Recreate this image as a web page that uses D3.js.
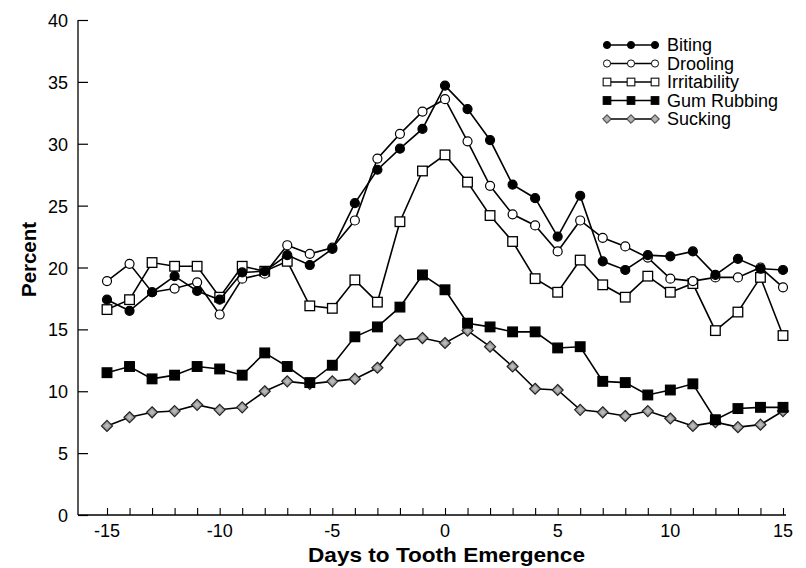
<!DOCTYPE html>
<html>
<head>
<meta charset="utf-8">
<script src="https://cdn.jsdelivr.net/npm/d3@7"></script>
<style>
  body { margin: 0; background: #fff; }
  text { font-family: "Liberation Sans", Arial, sans-serif; }
</style>
</head>
<body>
<svg></svg>
<script>
// data
var days = d3.range(-15, 16);
var biting = [17.4, 16.5, 18.0, 19.3, 18.1, 17.4, 19.6, 19.7, 21.0, 20.2, 21.5, 25.2, 27.9, 29.6, 31.2, 34.7,
              32.8, 30.3, 26.7, 25.6, 22.5, 25.8, 20.5, 19.8, 21.0, 20.9, 21.3, 19.4, 20.7, 19.9, 19.8];
var drooling = [18.9, 20.3, 18.0, 18.3, 18.8, 16.2, 19.1, 19.5, 21.8, 21.1, 21.6, 23.8, 28.8, 30.8, 32.6, 33.6,
                30.2, 26.6, 24.3, 23.4, 21.3, 23.8, 22.4, 21.7, 20.8, 19.1, 18.9, 19.2, 19.2, 20.0, 18.4];
var irritability = [16.6, 17.4, 20.4, 20.1, 20.1, 17.6, 20.1, 19.7, 20.5, 16.9, 16.7, 19.0, 17.2, 23.7, 27.8, 29.1,
                    26.9, 24.2, 22.1, 19.1, 18.0, 20.6, 18.6, 17.6, 19.3, 18.0, 18.7, 14.9, 16.4, 19.2, 14.5];
var gumRubbing = [11.5, 12.0, 11.0, 11.3, 12.0, 11.8, 11.3, 13.1, 12.0, 10.7, 12.1, 14.4, 15.2, 16.8, 19.4, 18.2,
                  15.5, 15.2, 14.8, 14.8, 13.5, 13.6, 10.8, 10.7, 9.7, 10.1, 10.6, 7.7, 8.6, 8.7, 8.7];
var sucking = [7.2, 7.9, 8.3, 8.4, 8.9, 8.5, 8.7, 10.0, 10.8, 10.6, 10.8, 11.0, 11.9, 14.1, 14.3, 13.9,
               14.9, 13.6, 12.0, 10.2, 10.1, 8.5, 8.3, 8.0, 8.4, 7.8, 7.2, 7.5, 7.1, 7.3, 8.4];
var seriesNames = ["Biting", "Drooling", "Irritability", "Gum Rubbing", "Sucking"];
var xTicks = [-15, -10, -5, 0, 5, 10, 15];
var yTicks = [0, 5, 10, 15, 20, 25, 30, 35, 40];

var svgWidth = 806, svgHeight = 568;
var svg = d3.select('svg')
  .attr('width', svgWidth)
  .attr('height', svgHeight);

var x = d3.scaleLinear().domain([-15, 15]).range([107, 783]);
var y = d3.scaleLinear().domain([0, 40]).range([515, 20]);
var axisLeft = 78;

// axes
svg.append("line").attr("x1", axisLeft).attr("x2", axisLeft).attr("y1", y(40)).attr("y2", y(0))
  .attr("stroke", "#000").attr("stroke-width", 1.3);
svg.append("line").attr("x1", axisLeft).attr("x2", 786).attr("y1", y(0)).attr("y2", y(0))
  .attr("stroke", "#000").attr("stroke-width", 1.3);

var yAxis = svg.append("g").attr("transform", "translate(" + axisLeft + ",0)")
  .call(d3.axisRight(y).tickValues(yTicks).tickSize(10).tickFormat(""));
yAxis.select(".domain").remove();
yAxis.selectAll("line").attr("stroke-width", 1.2);
svg.selectAll(".ylab").data(yTicks).enter().append("text")
  .attr("x", 68).attr("y", function (d) { return y(d) + 7; })
  .attr("text-anchor", "end").attr("font-size", 18).text(function (d) { return d; });

var xAxis = svg.append("g").attr("transform", "translate(0," + y(0) + ")")
  .call(d3.axisTop(x).tickValues(days).tickSize(7).tickFormat(""));
xAxis.select(".domain").remove();
xAxis.selectAll("line").attr("stroke-width", 1.1);
svg.selectAll(".xlab").data(xTicks).enter().append("text")
  .attr("x", function (d) { return x(d); }).attr("y", 537)
  .attr("text-anchor", "middle").attr("font-size", 18).text(function (d) { return d; });

svg.append("text").attr("x", 308).attr("y", 562)
  .attr("font-size", 21).attr("font-weight", "bold")
  .attr("textLength", 277).attr("lengthAdjust", "spacingAndGlyphs")
  .text("Days to Tooth Emergence");
svg.append("text").attr("transform", "translate(36,297) rotate(-90)")
  .attr("font-size", 21).attr("font-weight", "bold")
  .attr("textLength", 75).attr("lengthAdjust", "spacingAndGlyphs")
  .text("Percent");

// markers
function drawMarker(g, kind) {
  if (kind === 0 || kind === 1) {
    g.append("circle").attr("r", 4.5)
      .attr("fill", kind === 0 ? "#000" : "#fff").attr("stroke", "#000").attr("stroke-width", 1.2);
  } else if (kind === 2 || kind === 3) {
    g.append("rect").attr("x", -4.8).attr("y", -4.8).attr("width", 9.6).attr("height", 9.6)
      .attr("fill", kind === 3 ? "#000" : "#fff").attr("stroke", "#000").attr("stroke-width", 1.3);
  } else {
    g.append("path").attr("d", "M0,-5.5L5.5,0L0,5.5L-5.5,0Z")
      .attr("fill", "#9a9a9a").attr("stroke", "#222").attr("stroke-width", 1.2);
    g.append("path").attr("d", "M0,-2.8L2.8,0L0,2.8L-2.8,0Z")
      .attr("fill", "#b8b8b8").attr("stroke", "none");
  }
}

var allSeries = [biting, drooling, irritability, gumRubbing, sucking];
var line = d3.line().x(function (d, i) { return x(days[i]); }).y(function (d) { return y(d); });

// draw from bottom to top so Biting ends up on top
for (var s = allSeries.length - 1; s >= 0; s--) {
  svg.append("path").datum(allSeries[s]).attr("d", line)
    .attr("fill", "none").attr("stroke", "#000").attr("stroke-width", 1.6);
  svg.selectAll(".m" + s).data(allSeries[s]).enter().append("g")
    .attr("transform", function (d, i) { return "translate(" + x(days[i]) + "," + y(d) + ")"; })
    .each(function () { drawMarker(d3.select(this), s); });
}

// legend
var legend = svg.append("g");
seriesNames.forEach(function (name, i) {
  var ly = 45 + i * 18.5;
  legend.append("line").attr("x1", 607).attr("x2", 655).attr("y1", ly).attr("y2", ly)
    .attr("stroke", "#000").attr("stroke-width", 1.4);
  [607, 631, 655].forEach(function (lx) {
    var g = legend.append("g").attr("transform", "translate(" + lx + "," + ly + ") scale(0.8)");
    drawMarker(g, i);
  });
  legend.append("text").attr("x", 667).attr("y", ly + 6).attr("font-size", 18).text(name);
});
</script>
</body>
</html>
